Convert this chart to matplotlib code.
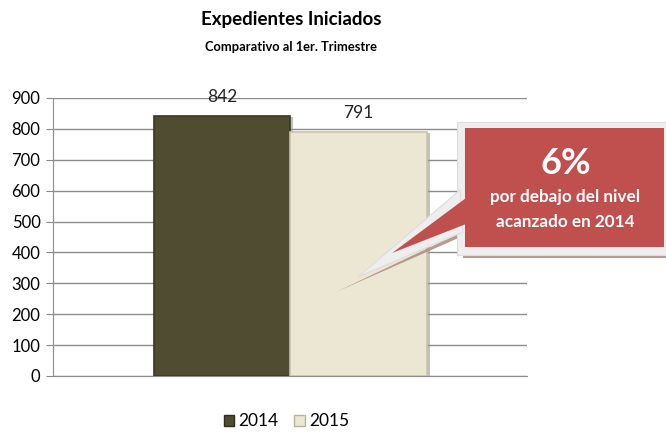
import matplotlib.pyplot as plt
import matplotlib.patheffects as pe
from matplotlib.patches import Polygon, Rectangle

plt.rcParams['font.family'] = ['Lato', 'DejaVu Sans']

# data
years = ['2014', '2015']
values = [842, 791]
colors = ['#504C32', '#ECE7D3']
yticks = [0, 100, 200, 300, 400, 500, 600, 700, 800, 900]

fig = plt.figure(figsize=(6.66, 4.32), dpi=100)
ax = fig.add_axes([53 / 666, 1 - 376 / 432, 474 / 666, 278 / 432])

xs = list(range(len(years)))
bars = ax.bar(xs, values, width=1.0, color=colors, edgecolor=['#3a3724', '#c9c4ad'],
              linewidth=1.2, zorder=3)
for b in bars:
    b.set_path_effects([pe.SimplePatchShadow(offset=(2, -1), shadow_rgbFace='#9a9a90', alpha=0.6),
                        pe.Normal()])

for x, v in zip(xs, values):
    ax.text(x, v + 62, str(v), ha='center', va='center', fontsize=12.5, color='#222222')

ax.set_ylim(0, 900)
ax.set_xlim(-1.238, 2.234)
ax.set_yticks(yticks)
ax.set_xticks([])
ax.tick_params(axis='y', labelsize=12, length=5, color='#888888', pad=4)
ax.yaxis.grid(True, color='#8c8c8c', linewidth=1)
ax.set_axisbelow(True)
for s in ['top', 'right']:
    ax.spines[s].set_visible(False)
ax.spines['left'].set_color('#8c8c8c')
ax.spines['bottom'].set_color('#8c8c8c')

handles = [Rectangle((0, 0), 1, 1, facecolor=c, edgecolor=e, linewidth=1)
           for c, e in zip(colors, ['#2e2c1c', '#b8b39c'])]
fig.legend(handles, years, loc='lower center', bbox_to_anchor=(0.43, -0.03), ncol=2,
           frameon=False, fontsize=12.5, handlelength=0.6, handleheight=0.6,
           handletextpad=0.25, columnspacing=0.9)

fig.text(291 / 666, 1 - 20 / 432, 'Expedientes Iniciados', ha='center', va='center',
         fontsize=13.5, fontweight='bold')
fig.text(291 / 666, 1 - 47 / 432, 'Comparativo al 1er. Trimestre', ha='center', va='center',
         fontsize=9.3, fontweight='bold')

# callout drawn in pixel space
ov = fig.add_axes([0, 0, 1, 1], facecolor='none')
ov.set_xlim(0, 666)
ov.set_ylim(432, 0)
ov.axis('off')
ov.add_patch(Polygon([(336, 292), (462, 232), (666, 232), (666, 258), (463, 258), (463, 236)],
                     closed=True, facecolor='#b08f86', edgecolor='none', alpha=0.9))
ov.add_patch(Rectangle((457, 122), 209, 133, facecolor='#eeeeee', edgecolor='#dddddd', linewidth=0.8))
ov.add_patch(Polygon([(460, 190), (358, 277), (463, 232)], closed=True,
                     facecolor='#eeeeee', edgecolor='#dddddd', linewidth=0.8))
ov.add_patch(Rectangle((465, 128), 199, 119, facecolor='#C0504D', edgecolor='none'))
ov.add_patch(Polygon([(466, 198), (392, 253), (466, 224)], closed=True,
                     facecolor='#C0504D', edgecolor='none'))
ov.text(566, 163, '6%', ha='center', va='center', fontsize=26, fontweight='bold', color='white')
ov.text(565, 197, 'por debajo del nivel', ha='center', va='center', fontsize=12.3,
        fontweight='bold', color='white')
ov.text(565, 222, 'acanzado en 2014', ha='center', va='center', fontsize=12.3,
        fontweight='bold', color='white')

fig.savefig('out.png', dpi=100)
